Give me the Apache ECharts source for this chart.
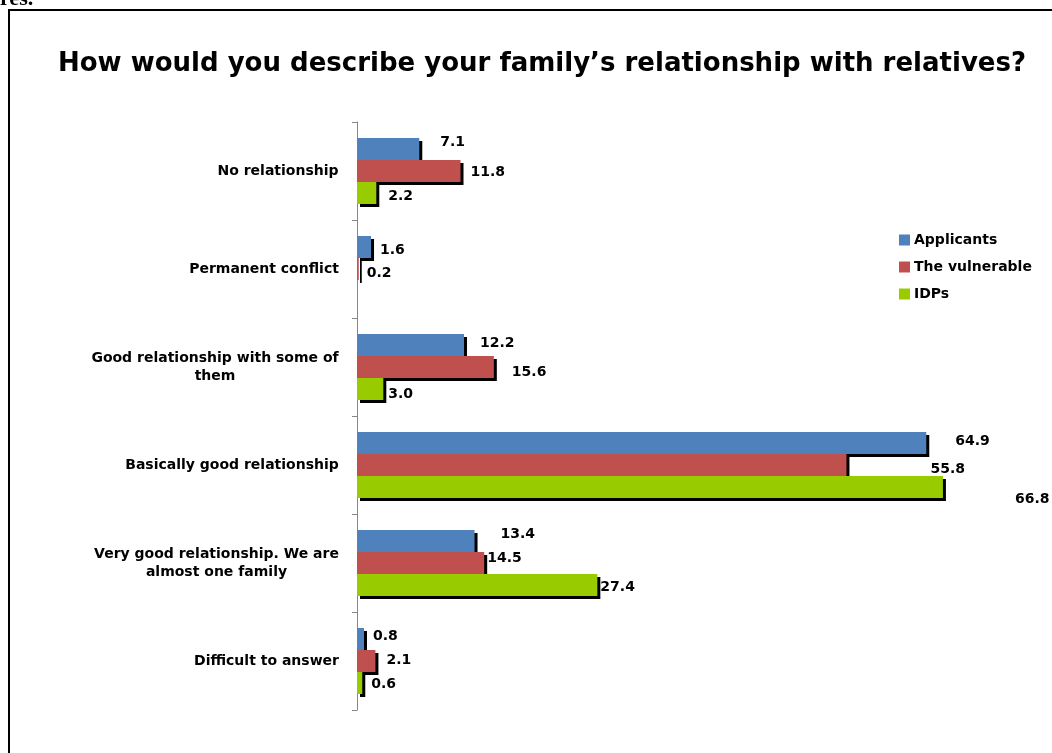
<!DOCTYPE html>
<html>
<head>
<meta charset="utf-8">
<title>Family relationship with relatives</title>
<script src="https://cdn.jsdelivr.net/npm/echarts@6/dist/echarts.min.js"></script>
<style>
  html, body { margin: 0; padding: 0; background: #ffffff; }
  #chart { width: 1052px; height: 753px; }
</style>
</head>
<body>
<div id="chart"></div>
<script>
// Survey answers, top to bottom
const categories = [
  'No relationship',
  'Permanent conflict',
  'Good relationship with some of\nthem',
  'Basically good relationship',
  'Very good relationship. We are\nalmost one family',
  'Difficult to answer'
];
const seriesNames = ['Applicants', 'The vulnerable', 'IDPs'];
const applicants = [7.1, 1.6, 12.2, 64.9, 13.4, 0.8];
const vulnerable = [11.8, 0.2, 15.6, 55.8, 14.5, 2.1];
const idps = [2.2, null, 3.0, 66.8, 27.4, 0.6];

// Hand-placed value labels: [dx, dy] nudges from the default spot at the bar end
const labelNudges = [
  [[12, -7], [0, 3], [7, -2], [20, -2], [17, -7], [0, -3]],
  [[1, 1], [-1, 4], [9, 5], [75, 4], [-6, -5], [2, -1]],
  [[3, 3], [0, 0], [-4, 5], [63, 12], [-6, 2], [0, 1]]
];

const FONT = '"DejaVu Sans", "Open Sans", sans-serif';
const colors = ['#4F81BD', '#C0504D', '#99CC00'];

// Wrapped category labels are centred line by line, right-aligned as a block
const measureCtx = document.createElement('canvas').getContext('2d');
measureCtx.font = 'bold 14px ' + FONT;
const rich = {};
categories.forEach((c, i) => {
  const w = Math.max(...c.split('\n').map(l => measureCtx.measureText(l).width));
  rich['c' + i] = { width: Math.ceil(w), align: 'center', fontSize: 14, fontWeight: 'bold',
                    fontFamily: FONT, color: '#000', lineHeight: 18 };
});

const valueSets = [applicants, vulnerable, idps];
const series = valueSets.map((vals, s) => ({
  name: seriesNames[s],
  type: 'bar',
  barWidth: 22,
  barGap: '0%',
  itemStyle: {
    color: colors[s],
    shadowColor: '#000',
    shadowBlur: 0,
    shadowOffsetX: 3,
    shadowOffsetY: 3
  },
  data: vals.map((v, i) => ({
    value: v,
    label: { offset: labelNudges[s][i] }
  })),
  label: {
    show: true,
    position: 'right',
    distance: 9,
    formatter: p => p.value == null ? '' : p.value.toFixed(1),
    fontSize: 14,
    fontWeight: 'bold',
    fontFamily: FONT,
    color: '#000'
  },
  emphasis: { disabled: true }
}));

const chart = echarts.init(document.getElementById('chart'), null, { renderer: 'canvas' });
chart.setOption({
  animation: false,
  backgroundColor: '#ffffff',
  title: {
    text: 'How would you describe your family\u2019s relationship with relatives?',
    left: 53,
    top: 46,
    textStyle: { fontSize: 26, fontWeight: 'bold', fontFamily: FONT, color: '#000' }
  },
  legend: {
    orient: 'vertical',
    left: 894,
    top: 228,
    itemWidth: 11,
    itemHeight: 11,
    itemGap: 13,
    icon: 'rect',
    textStyle: { fontSize: 14, fontWeight: 'bold', fontFamily: FONT, color: '#000', padding: [0, 0, 0, -1] },
    data: seriesNames
  },
  grid: { left: 357, top: 122, width: 614, height: 588, containLabel: false },
  xAxis: {
    type: 'value',
    min: 0,
    max: 70,
    show: false
  },
  yAxis: {
    type: 'category',
    inverse: true,
    data: categories,
    axisLine: { show: true, lineStyle: { color: '#868686', width: 1 } },
    axisTick: { show: true, length: 5, lineStyle: { color: '#868686' } },
    axisLabel: {
      margin: 18,
      formatter: (value, index) => value.split('\n').map(l => '{c' + index + '|' + l + '}').join('\n'),
      rich: rich
    }
  },
  graphic: [
    {
      type: 'rect',
      shape: { x: 9, y: 10, width: 1200, height: 900 },
      style: { fill: null, stroke: '#000', lineWidth: 2 },
      silent: true
    },
    {
      type: 'text',
      x: 0,
      y: 10,
      style: { text: 'res.', font: 'bold 22px "Liberation Serif", serif', fill: '#000', textVerticalAlign: 'bottom' },
      silent: true
    }
  ],
  series: series
});
</script>
</body>
</html>
